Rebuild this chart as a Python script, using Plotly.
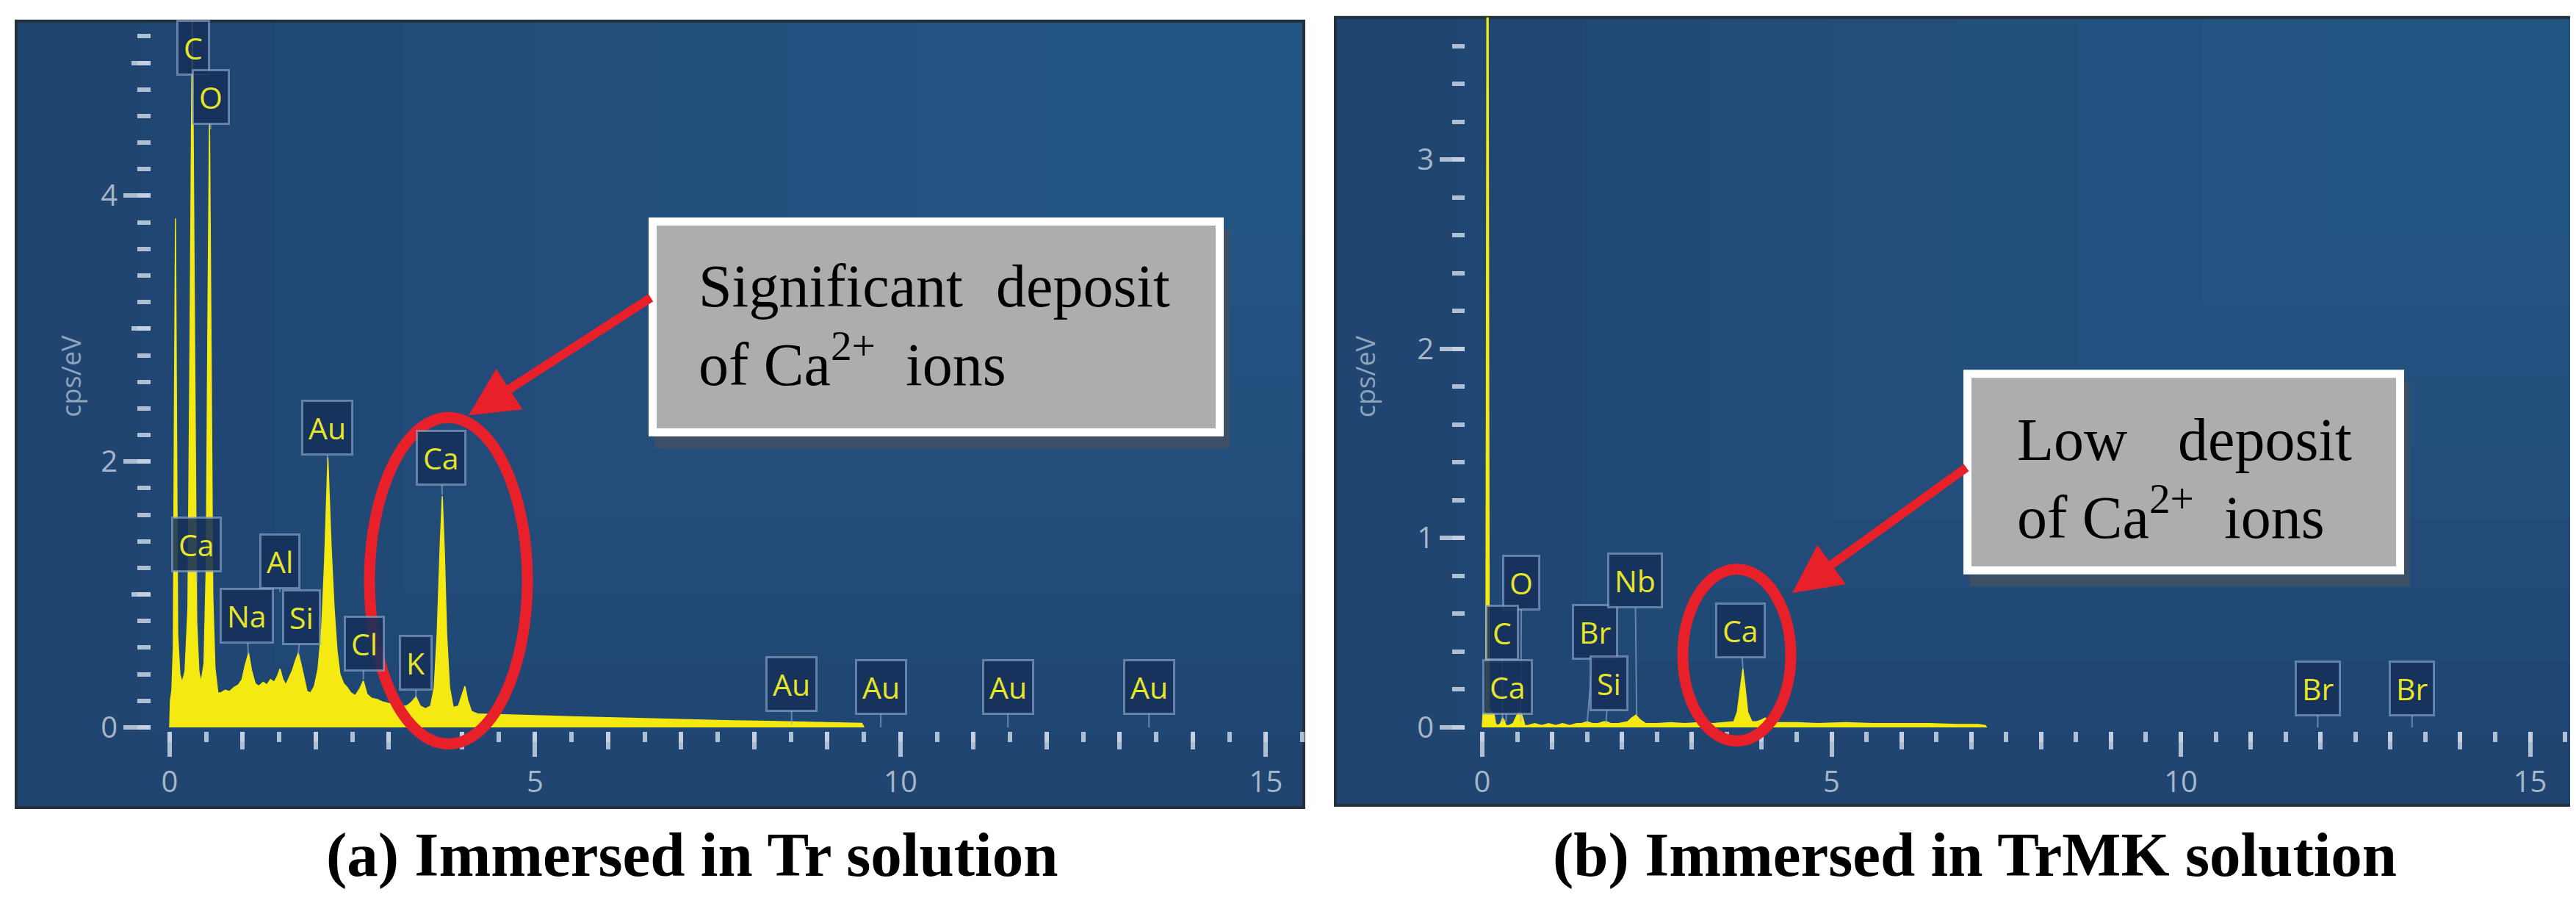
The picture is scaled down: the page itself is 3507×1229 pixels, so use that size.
import plotly.graph_objects as go

W, H = 3507, 1229

# ---------------------------------------------------------------------------
# EDS spectra (keV, cps/eV)
# ---------------------------------------------------------------------------
energy_a = [0.00, 0.01, 0.03, 0.05, 0.065, 0.08, 0.095, 0.11, 0.14, 0.17,
            0.21, 0.25, 0.28, 0.31, 0.34, 0.37, 0.40, 0.43, 0.47, 0.50,
            0.525, 0.545, 0.565, 0.59, 0.62, 0.66, 0.70, 0.76, 0.82, 0.88,
            0.94, 0.99, 1.03, 1.08, 1.12, 1.17, 1.22, 1.28, 1.33, 1.38,
            1.43, 1.47, 1.51, 1.55, 1.59, 1.64, 1.68, 1.72, 1.76, 1.80,
            1.84, 1.88, 1.93, 1.98, 2.03, 2.08, 2.12, 2.145, 2.165, 2.185,
            2.21, 2.25, 2.29, 2.33, 2.38, 2.43, 2.48, 2.54, 2.60, 2.65,
            2.70, 2.76, 2.84, 2.92, 3.00, 3.08, 3.16, 3.24, 3.31, 3.37,
            3.43, 3.50, 3.57, 3.62, 3.66, 3.70, 3.73, 3.76, 3.79, 3.83,
            3.88, 3.95, 4.00, 4.04, 4.08, 4.13, 4.22, 4.50, 5.00, 5.50,
            5.90, 6.40, 6.80, 7.30, 7.70, 8.20, 8.60, 9.00, 9.47, 9.50]
counts_a = [0.00, 0.20, 0.28, 0.60, 2.40, 3.83, 2.20, 0.70, 0.40, 0.34,
            0.42, 0.90, 3.00, 5.45, 3.00, 0.80, 0.42, 0.34, 0.48, 1.20,
            3.20, 4.55, 3.00, 1.00, 0.45, 0.26, 0.26, 0.28, 0.27, 0.30,
            0.32, 0.36, 0.46, 0.56, 0.43, 0.33, 0.31, 0.34, 0.32, 0.36,
            0.34, 0.38, 0.44, 0.36, 0.32, 0.38, 0.43, 0.50, 0.56, 0.47,
            0.37, 0.27, 0.26, 0.31, 0.44, 0.75, 1.25, 1.75, 2.03, 1.72,
            1.35, 0.90, 0.58, 0.40, 0.33, 0.30, 0.26, 0.24, 0.29, 0.35,
            0.25, 0.22, 0.21, 0.19, 0.18, 0.18, 0.16, 0.16, 0.19, 0.23,
            0.16, 0.14, 0.16, 0.30, 0.70, 1.35, 1.74, 1.30, 0.70, 0.30,
            0.15, 0.16, 0.24, 0.31, 0.20, 0.12, 0.10, 0.095, 0.09, 0.08,
            0.075, 0.068, 0.06, 0.055, 0.05, 0.045, 0.04, 0.035, 0.03, 0.00]

energy_b = [0.00, 0.01, 0.03, 0.05, 0.058, 0.066, 0.084, 0.092, 0.10, 0.13,
            0.17, 0.19, 0.22, 0.26, 0.29, 0.31, 0.34, 0.38, 0.44, 0.49,
            0.52, 0.55, 0.58, 0.61, 0.65, 0.75, 0.85, 0.95, 1.05, 1.15,
            1.25, 1.35, 1.42, 1.50, 1.58, 1.66, 1.74, 1.78, 1.84, 1.95,
            2.08, 2.14, 2.20, 2.26, 2.34, 2.50, 2.70, 2.90, 3.10, 3.30,
            3.50, 3.60, 3.65, 3.69, 3.73, 3.76, 3.80, 3.86, 3.93, 4.00,
            4.05, 4.10, 4.20, 4.50, 4.80, 5.20, 5.60, 6.00, 6.40, 6.80,
            7.10, 7.20, 7.22]
counts_b = [0.00, 0.07, 0.08, 0.10, 1.60, 3.90, 3.90, 1.60, 0.10, 0.08,
            0.07, 0.02, 0.01, 0.02, 0.05, 0.04, 0.01, 0.01, 0.02, 0.06,
            0.08, 0.08, 0.05, 0.01, 0.01, 0.02, 0.01, 0.02, 0.01, 0.02,
            0.01, 0.02, 0.02, 0.03, 0.02, 0.02, 0.03, 0.03, 0.02, 0.02,
            0.03, 0.05, 0.065, 0.04, 0.02, 0.02, 0.025, 0.02, 0.025, 0.02,
            0.025, 0.03, 0.08, 0.20, 0.31, 0.22, 0.08, 0.03, 0.03, 0.04,
            0.05, 0.03, 0.025, 0.025, 0.02, 0.025, 0.02, 0.02, 0.02, 0.015,
            0.015, 0.01, 0.00]

# element markers: symbol, line energy (keV), pointer tip height (cps/eV)
elements_a = ["C", "O", "Ca", "Na", "Al", "Si", "Au", "Cl", "K", "Ca",
              "Au", "Au", "Au", "Au"]
element_kev_a = [0.32, 0.56, 0.37, 1.075, 1.51, 1.76, 2.16, 2.65, 3.37, 3.73,
                 8.51, 9.73, 11.47, 13.40]
element_tip_a = [4.89, 4.50, 1.10, 0.55, 1.02, 0.55, 2.00, 0.36, 0.22, 1.75,
                 0.02, 0.0, 0.0, 0.0]

elements_b = ["O", "C", "Ca", "Br", "Si", "Nb", "Ca", "Br", "Br"]
element_kev_b = [0.55, 0.29, 0.34, 1.50, 1.77, 2.21, 3.73, 11.96, 13.31]
element_tip_b = [0.03, 0.03, 0.03, 0.02, 0.02, 0.065, 0.31, 0.0, 0.0]

x_major = [0, 5, 10, 15]
x_mid = [1, 2, 3, 4, 6, 7, 8, 9, 11, 12, 13, 14]
y_major_a = [0, 2, 4]
y_mid_a = [1, 3, 5]
y_major_b = [0, 1, 2, 3]

titles = ["(a) Immersed in Tr solution", "(b) Immersed in TrMK solution"]

# ---------------------------------------------------------------------------
# Styling
# ---------------------------------------------------------------------------
YELLOW = "#f4ea12"
BG = "#1f4570"
TICK = "rgba(200,212,228,0.85)"
TICKFONT = dict(family="Open Sans", size=40, color="#a6b6c9")
RED = "#e8202a"
LBL_BG = "rgba(20,48,90,0.88)"
LBL_LINE = "rgba(150,175,210,0.6)"

# pixel offsets of the label boxes from their pointer tips
offset_a = [(0, -41), (0, -44), (0, -50), (-2, -52), (0, -41), (4, -50), (0, -46),
            (1, -49), (0, -48), (-2, -50), (0, -55), (0, -55), (0, -55), (0, -55)]
offset_b = [(1, -189), (-1, -121), (2, -47), (11, -125), (4, -55), (-2, -183),
            (-3, -52), (0, -53), (0, -53)]


def px(x):
    return x / W


def py(y):
    return 1 - y / H


fig = go.Figure()

fig.add_trace(go.Scatter(
    x=energy_a, y=counts_a, mode="lines", fill="tozeroy",
    line=dict(color=YELLOW, width=1.5), fillcolor=YELLOW,
    xaxis="x", yaxis="y", showlegend=False, hoverinfo="skip",
))
fig.add_trace(go.Scatter(
    x=energy_b, y=counts_b, mode="lines", fill="tozeroy",
    line=dict(color=YELLOW, width=1.5), fillcolor=YELLOW,
    xaxis="x2", yaxis="y2", showlegend=False, hoverinfo="skip",
))
# empty traces so the overlay tick axes get drawn
fig.add_trace(go.Scatter(x=[None], y=[None], xaxis="x3", yaxis="y3",
                         showlegend=False, hoverinfo="skip"))
fig.add_trace(go.Scatter(x=[None], y=[None], xaxis="x4", yaxis="y2",
                         showlegend=False, hoverinfo="skip"))

rng_xa = [-0.251, 15.518]
rng_ya = [-0.027, 5.315]
rng_xb = [-0.242, 15.615]
rng_yb = [-0.019, 3.752]

common = dict(showgrid=False, zeroline=False, showline=False, ticks="outside",
              tickwidth=6, tickcolor=TICK, tickfont=TICKFONT, fixedrange=True)

fig.update_layout(
    width=W, height=H,
    margin=dict(l=0, r=0, t=0, b=0),
    paper_bgcolor="white",
    plot_bgcolor="rgba(0,0,0,0)",
    xaxis=dict(domain=[px(198), px(1767)], range=rng_xa, anchor="y",
               tickmode="array", tickvals=x_major, ticklen=34,
               minor=dict(dtick=0.5, tick0=0, ticks="outside", ticklen=14,
                          tickwidth=6, tickcolor=TICK),
               **common),
    xaxis3=dict(overlaying="x", anchor="y", range=rng_xa, tickmode="array",
                tickvals=x_mid, ticklen=24, showticklabels=False, **common),
    yaxis=dict(domain=[py(1004), py(21)], range=rng_ya, anchor="x",
               tickmode="array", tickvals=y_major_a, ticklen=37,
               minor=dict(dtick=0.2, tick0=0, ticks="outside", ticklen=18,
                          tickwidth=6, tickcolor=TICK),
               **common),
    yaxis3=dict(overlaying="y", anchor="x", range=rng_ya, tickmode="array",
                tickvals=y_mid_a, ticklen=26, showticklabels=False, **common),
    xaxis2=dict(domain=[px(1987), px(3495)], range=rng_xb, anchor="y2",
                tickmode="array", tickvals=x_major, ticklen=34,
                minor=dict(dtick=0.5, tick0=0, ticks="outside", ticklen=14,
                           tickwidth=6, tickcolor=TICK),
                **common),
    xaxis4=dict(overlaying="x2", anchor="y2", range=rng_xb, tickmode="array",
                tickvals=x_mid, ticklen=24, showticklabels=False, **common),
    yaxis2=dict(domain=[py(1004), py(16)], range=rng_yb, anchor="x2",
                tickmode="array", tickvals=y_major_b, ticklen=34,
                minor=dict(dtick=0.2, tick0=0, ticks="outside", ticklen=17,
                           tickwidth=6, tickcolor=TICK),
                **common),
)

# ---------------------------------------------------------------------------
# Panel frames with a soft blue gradient
# ---------------------------------------------------------------------------
shapes = []
for (l, t, r, b) in [(14, 21, 1767, 1110), (1810, 16, 3495, 1107)]:
    shapes.append(dict(type="rect", xref="paper", yref="paper", layer="below",
                       x0=px(l), x1=px(r), y0=py(b), y1=py(t),
                       fillcolor=BG, line=dict(width=0)))
    n = 8
    for k in range(1, n + 1):
        shapes.append(dict(type="rect", xref="paper", yref="paper", layer="below",
                           x0=px(l + (r - l) * k / (n + 2)), x1=px(r),
                           y0=py(b - (b - t) * k / (n + 3)), y1=py(t),
                           fillcolor="rgba(58,112,170,0.06)", line=dict(width=0)))
    shapes.append(dict(type="rect", xref="paper", yref="paper", layer="below",
                       x0=px(l), x1=px(r), y0=py(b), y1=py(t),
                       fillcolor="rgba(0,0,0,0)", line=dict(color="#26303c", width=4)))

# callout boxes: shadow, then grey box with white border
for (l, t, r, b) in [(875, 293, 1658, 596), (2665, 504, 3265, 787)]:
    shapes.append(dict(type="rect", xref="paper", yref="paper", layer="above",
                       x0=px(l + 8), x1=px(r + 8), y0=py(b + 17), y1=py(t + 17),
                       fillcolor="#3c4f66", line=dict(width=0)))
    shapes.append(dict(type="rect", xref="paper", yref="paper", layer="above",
                       x0=px(l + 5.5), x1=px(r - 5.5), y0=py(b - 5.5), y1=py(t + 5.5),
                       fillcolor="#adadad", line=dict(color="white", width=11)))

# red ellipses around the Ca K peaks
for (l, t, r, b) in [(495, 570, 710, 1022), (2283, 780, 2430, 1018)]:
    shapes.append(dict(type="circle", xref="paper", yref="paper", layer="above",
                       x0=px(l), x1=px(r), y0=py(b), y1=py(t),
                       line=dict(color=RED, width=15)))

fig.update_layout(shapes=shapes)

# ---------------------------------------------------------------------------
# Annotations
# ---------------------------------------------------------------------------
ann = []


def element_labels(names, kev, tip, offs, xr, yr):
    for name, xv, yv, (dx, dy) in zip(names, kev, tip, offs):
        ann.append(dict(
            x=xv, y=yv, xref=xr, yref=yr, text=name, showarrow=True,
            ax=dx, ay=dy, arrowhead=0, arrowwidth=2, arrowcolor=LBL_LINE,
            standoff=0, bgcolor=LBL_BG, bordercolor=LBL_LINE, borderwidth=3,
            borderpad=7, font=dict(family="Open Sans", size=41, color="#e6e52a"),
        ))


element_labels(elements_a, element_kev_a, element_tip_a, offset_a, "x", "y")
element_labels(elements_b, element_kev_b, element_tip_b, offset_b, "x2", "y2")

# y axis titles
for xc in (62, 1850):
    ann.append(dict(x=px(xc), y=py(513), xref="paper", yref="paper",
                    text="cps/eV", textangle=-90, showarrow=False,
                    font=dict(family="Open Sans", size=36, color="#8ea3bc")))

# red arrows from the callout boxes
for (tx, ty, hx, hy) in [(881, 405, 630, 567), (2672, 640, 2432, 813)]:
    ann.append(dict(x=px(hx), y=py(hy), xref="paper", yref="paper", text=" ",
                    showarrow=True, ax=tx - hx, ay=ty - hy, arrowhead=2,
                    arrowsize=1.1, arrowwidth=12, arrowcolor=RED, standoff=0))

serif = dict(family="Liberation Serif", size=82, color="black")
callouts = [
    ("Significant", 941, 388, "left"), ("deposit", 1587, 388, "right"),
    ("of Ca<sup>2+</sup>\u00a0\u00a0ions", 941, 491, "left"),
    ("Low", 2736, 601, "left"), ("deposit", 3196, 601, "right"),
    ("of Ca<sup>2+</sup>\u00a0\u00a0ions", 2736, 702, "left"),
]
for text, xx, yy, anc in callouts:
    ann.append(dict(x=px(xx), y=py(yy), xref="paper", yref="paper", text=text,
                    showarrow=False, xanchor=anc, yanchor="middle", font=serif))

for text, xx in zip(titles, (434, 2104)):
    ann.append(dict(x=px(xx), y=py(1176), xref="paper", yref="paper", text=text,
                    showarrow=False, xanchor="left", yanchor="middle",
                    font=dict(family="Liberation Serif", size=85, color="black",
                              weight="bold")))

fig.update_layout(annotations=ann)

fig.write_html("out.html")
